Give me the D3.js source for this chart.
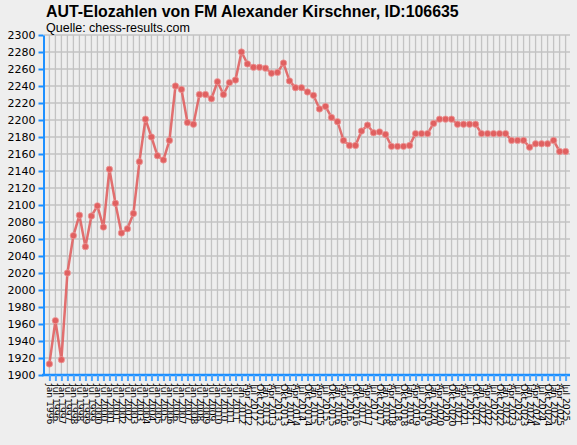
<!DOCTYPE html>
<html>
<head>
<meta charset="utf-8">
<script src="https://cdn.jsdelivr.net/npm/d3@7/dist/d3.min.js"></script>
<style>
  html, body { margin: 0; padding: 0; background: #eeeeee; }
  svg { display: block; }
</style>
</head>
<body>
<div id="chart"></div>
<script>
// Rating list dates (x categories)
const dates = [
  "Jan 1996", "Jul 1996", "Jan 1997", "Jul 1997", "Jan 1998", "Jul 1998",
  "Jan 1999", "Jul 1999", "Jan 2000", "Jul 2000", "Jan 2001", "Jul 2001",
  "Jan 2002", "Jul 2002", "Jan 2003", "Jul 2003", "Jan 2004", "Jul 2004",
  "Jan 2005", "Jul 2005", "Jan 2006", "Jul 2006", "Jan 2007", "Jul 2007",
  "Jan 2008", "Jul 2008", "Jan 2009", "Jul 2009", "Jan 2010", "Jul 2010",
  "Jan 2011", "Jul 2011",
  "Jan 2012", "Apr 2012", "Jul 2012", "Okt 2012",
  "Jan 2013", "Apr 2013", "Jul 2013", "Okt 2013",
  "Jan 2014", "Apr 2014", "Jul 2014", "Okt 2014",
  "Jan 2015", "Apr 2015", "Jul 2015", "Okt 2015",
  "Jan 2016", "Apr 2016", "Jul 2016", "Okt 2016",
  "Jan 2017", "Apr 2017", "Jul 2017", "Okt 2017",
  "Jan 2018", "Apr 2018", "Jul 2018", "Okt 2018",
  "Jan 2019", "Apr 2019", "Jul 2019", "Okt 2019",
  "Jan 2020", "Apr 2020", "Jul 2020", "Okt 2020",
  "Jan 2021", "Apr 2021", "Jul 2021", "Okt 2021",
  "Jan 2022", "Apr 2022", "Jul 2022", "Okt 2022",
  "Jan 2023", "Apr 2023", "Jul 2023", "Okt 2023",
  "Jan 2024", "Apr 2024", "Jul 2024", "Okt 2024",
  "Jan 2025", "Apr 2025", "Jul 2025"
];

// Elo values, one per list
const elo = [
  1913, 1964, 1918, 2020, 2064, 2088, 2051, 2087, 2099, 2074,
  2142, 2102, 2067, 2072, 2090, 2151, 2201, 2180, 2158, 2153,
  2176, 2240, 2236, 2197, 2195, 2230, 2230, 2225, 2245, 2230,
  2244, 2247, 2280, 2266, 2262, 2262, 2261, 2255, 2256, 2267,
  2246, 2238, 2238, 2233, 2229, 2213, 2216, 2203, 2198, 2176,
  2170, 2170, 2187, 2194, 2185, 2186, 2183, 2169, 2169, 2169,
  2170, 2184, 2184, 2184, 2196, 2201, 2201, 2201, 2195, 2195,
  2195, 2195, 2184, 2184, 2184, 2184, 2184, 2176, 2176, 2176,
  2168, 2172, 2172, 2172, 2176, 2163, 2163
];

// y axis ticks
const yTicks = d3.range(1900, 2301, 20);

const title = "AUT-Elozahlen von FM Alexander Kirschner, ID:106635";
const subtitle = "Quelle: chess-results.com";

const W = 577, H = 445;
const plot = { left: 44, right: 570, top: 35, bottom: 375 };
const blue = "#1e90ff";
const red = "#e06060";

const svg = d3.select("#chart")
    .append("svg")
    .attr("width", W)
    .attr("height", H);

svg.append("rect")
    .attr("width", W)
    .attr("height", H)
    .attr("fill", "#eeeeee");

// Scales
const x = d3.scalePoint()
    .domain(dates)
    .range([plot.left, plot.right + 1])
    .padding(0.9);

const y = d3.scaleLinear()
    .domain([1900, 2300])
    .range([plot.bottom, plot.top]);

// Grid
const grid = svg.append("g").attr("stroke", "#c3c3c3").attr("stroke-width", 1.3);

grid.selectAll(".vgrid")
    .data(dates)
    .enter()
    .append("line")
    .attr("x1", d => x(d))
    .attr("x2", d => x(d))
    .attr("y1", plot.top)
    .attr("y2", plot.bottom);

grid.selectAll(".hgrid")
    .data(yTicks)
    .enter()
    .append("line")
    .attr("x1", plot.left)
    .attr("x2", plot.right)
    .attr("y1", d => y(d))
    .attr("y2", d => y(d));

// Titles
svg.append("text")
    .attr("x", 46)
    .attr("y", 16.5)
    .style("font-family", "'Liberation Sans', Arial, sans-serif")
    .style("font-weight", "bold")
    .style("font-size", "15.9px")
    .text(title);

svg.append("text")
    .attr("x", 46)
    .attr("y", 31.5)
    .style("font-family", "'Liberation Sans', Arial, sans-serif")
    .style("font-size", "12.5px")
    .text(subtitle);

// Y axis
const yAxis = d3.axisLeft(y)
    .tickValues(yTicks)
    .tickFormat(d3.format("d"))
    .tickSize(5)
    .tickSizeOuter(0)
    .tickPadding(3);

const gy = svg.append("g")
    .attr("transform", `translate(${plot.left - 0.5},0)`)
    .call(yAxis);

gy.select(".domain").attr("stroke", blue).attr("stroke-width", 2);
gy.selectAll(".tick line").attr("stroke", blue).attr("stroke-width", 2);
gy.selectAll(".tick text")
    .attr("fill", "#000")
    .style("font-family", "'DejaVu Sans', sans-serif")
    .style("font-size", "11px");

// X axis
const xAxis = d3.axisBottom(x)
    .tickSize(6)
    .tickSizeOuter(0)
    .tickPadding(0);

const gx = svg.append("g")
    .attr("transform", `translate(0,${plot.bottom})`)
    .call(xAxis);

gx.select(".domain")
    .attr("d", `M${plot.left - 2},0H${plot.right}`)
    .attr("stroke", blue)
    .attr("stroke-width", 2.5);
gx.selectAll(".tick line").attr("stroke", "#4aa6ff").attr("stroke-width", 2);
gx.selectAll(".tick text")
    .attr("fill", "#000")
    .attr("y", 0)
    .attr("dy", "0.35em")
    .attr("transform", "translate(0,9) rotate(90)")
    .style("text-anchor", "start")
    .style("font-family", "'DejaVu Sans', sans-serif")
    .style("font-size", "9.2px");

// Line and points
const line = d3.line()
    .x((d, i) => x(dates[i]))
    .y(d => y(d));

svg.append("path")
    .datum(elo)
    .attr("fill", "none")
    .attr("stroke", red)
    .attr("stroke-opacity", 0.9)
    .attr("stroke-width", 2.5)
    .attr("d", line);

svg.selectAll(".dot")
    .data(elo)
    .enter()
    .append("circle")
    .attr("class", "dot")
    .attr("cx", (d, i) => x(dates[i]))
    .attr("cy", d => y(d))
    .attr("r", 3.2)
    .attr("fill", red)
    .attr("stroke", "#ec9a9a")
    .attr("stroke-width", 0.8);
</script>
</body>
</html>
